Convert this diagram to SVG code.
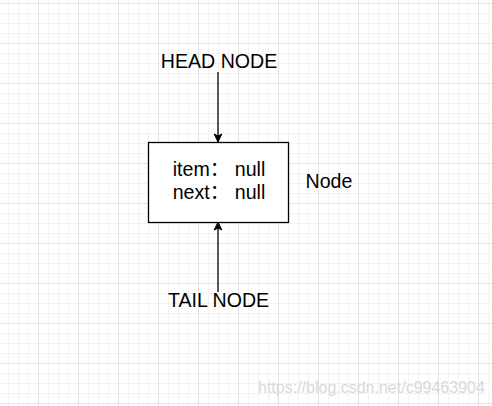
<svg xmlns="http://www.w3.org/2000/svg" width="492" height="406" viewBox="0 0 492 406">
<style>
  .lbl { font-family: "Liberation Sans", Arial, "Noto Sans CJK SC", sans-serif; font-size: 19.6px; fill: #000; }
  .edge { stroke: #000; stroke-width: 1.3; fill: none; }
  .wm { font-family: "Liberation Sans", Arial, sans-serif; font-size: 16px; fill: #d9d9d9; }
</style>
<defs>
  <pattern id="minor" x="8" y="3" width="10" height="10" patternUnits="userSpaceOnUse">
    <path d="M0 0.5H10M0.5 0V10" stroke="#f3f3f3" stroke-width="1" fill="none"/>
  </pattern>
  <pattern id="major" x="38" y="3" width="40" height="40" patternUnits="userSpaceOnUse">
    <path d="M0 0.5H40M0.5 0V40" stroke="#e4e4e4" stroke-width="1" fill="none"/>
  </pattern>
  <marker id="arrow" viewBox="0 0 10 10" refX="9" refY="5" markerWidth="10" markerHeight="10" markerUnits="userSpaceOnUse" orient="auto">
    <path d="M1 1.2L9 5L1 8.8L3 5Z" fill="#000" stroke="#000" stroke-width="1"/>
  </marker>
</defs>
<rect width="492" height="406" fill="#fff"/>
<rect width="492" height="406" fill="url(#minor)"/>
<rect width="492" height="406" fill="url(#major)"/>

<g id="connectors">
  <line class="edge" x1="218" y1="72" x2="218" y2="142" marker-end="url(#arrow)"/>
  <line class="edge" x1="218" y1="292" x2="218" y2="222" marker-end="url(#arrow)"/>
</g>

<g id="head-node">
  <text class="lbl" x="219" y="68" text-anchor="middle">HEAD NODE</text>
</g>

<g id="node">
  <rect x="148.5" y="142.5" width="140" height="80" fill="#fff" stroke="#000" stroke-width="1.3"/>
  <text class="lbl" x="219" y="176" text-anchor="middle">item： null</text>
  <text class="lbl" x="219" y="199" text-anchor="middle">next： null</text>
</g>

<g id="node-label">
  <text class="lbl" x="305.5" y="188">Node</text>
</g>

<g id="tail-node">
  <text class="lbl" x="218.5" y="307" text-anchor="middle">TAIL NODE</text>
</g>

<text class="wm" x="258" y="393">https://blog.csdn.net/c99463904</text>
</svg>
